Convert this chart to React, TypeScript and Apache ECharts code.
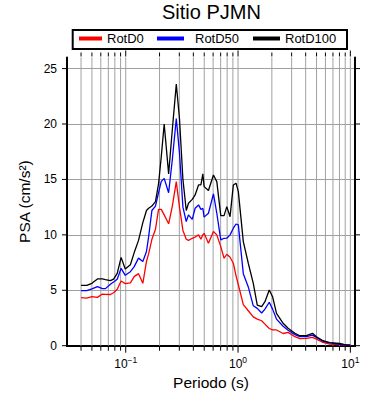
import React, { useEffect, useRef } from "react";
import * as echarts from "echarts";

const FONT = "Liberation Sans, Arial, Helvetica, sans-serif";

const periods = [
  0.04, 0.045, 0.05, 0.056, 0.062, 0.066, 0.073, 0.078, 0.084, 0.091,
  0.099, 0.11, 0.119, 0.13, 0.142, 0.153, 0.16, 0.171, 0.184, 0.196,
  0.207, 0.22, 0.241, 0.26, 0.282, 0.301, 0.323, 0.346, 0.362, 0.391,
  0.415, 0.445, 0.467, 0.486, 0.499, 0.545, 0.604, 0.647, 0.702, 0.751,
  0.794, 0.849, 0.908, 0.96, 1.006, 1.114, 1.234, 1.367, 1.483, 1.623,
  1.736, 1.896, 2.03, 2.2, 2.52, 2.79, 3.21, 3.55, 4.07, 4.6,
  4.99, 5.71, 6.55, 8.04, 9.21, 10.0,
];

const rotD100 = [
  5.45, 5.45, 5.63, 6.02, 6.02, 5.96, 5.87, 6.0, 6.53, 7.97,
  6.92, 7.3, 8.4, 9.5, 11.1, 12.2, 12.4, 12.6, 13.0, 14.6,
  17.0, 20.0, 15.5, 19.5, 23.6, 20.5, 15.0, 12.2, 12.85, 13.2,
  13.6, 14.5, 14.5, 15.5, 14.35, 14.0, 15.4, 14.8, 11.73, 11.73,
  12.55, 11.64, 14.5, 14.66, 13.9, 9.39, 7.44, 5.63, 3.67, 3.52,
  3.97, 5.03, 4.42, 2.92, 2.02, 1.57, 1.12, 0.9, 0.9, 1.12,
  0.81, 0.45, 0.27, 0.2, 0.06, 0.05,
];

const rotD50 = [
  4.96, 4.96, 5.12, 5.33, 5.15, 5.15, 5.54, 5.75, 6.0, 6.98,
  6.35, 6.68, 7.13, 7.9, 7.6, 8.5, 9.84, 12.2, 12.6, 13.8,
  14.8, 15.1, 13.8, 16.8, 20.5, 17.4, 12.5, 11.2, 11.8, 11.4,
  12.4, 12.7, 12.3, 12.4, 11.6, 11.95, 13.7, 11.95, 9.54, 9.69,
  9.7, 10.0, 10.6, 10.98, 10.9, 6.5, 5.3, 3.6, 3.37, 2.95,
  3.3, 3.92, 3.3, 2.4, 1.75, 1.4, 1.0, 0.81, 0.81, 0.95,
  0.75, 0.4, 0.25, 0.13, 0.08, 0.05,
];

const rotD0 = [
  4.33, 4.3, 4.42, 4.36, 4.66, 4.63, 4.62, 4.78, 5.1, 5.84,
  5.6, 5.67, 6.23, 6.5, 5.63, 7.6, 8.3, 9.6, 10.5, 12.3,
  12.3, 11.8, 11.0, 12.6, 14.8, 12.5, 10.4, 9.6, 9.5, 9.69,
  9.8, 10.0, 9.6, 10.0, 10.14, 9.24, 10.3, 10.0, 8.94, 7.89,
  8.25, 7.98, 7.44, 6.3, 5.5, 3.7, 3.15, 2.6, 2.4, 2.25,
  1.95, 1.55, 1.42, 1.42, 1.1, 1.2, 0.81, 0.63, 0.66, 0.75,
  0.6, 0.3, 0.15, 0.08, 0.05, 0.03,
];

const seriesNames = ["RotD0", "RotD50", "RotD100"];
const seriesColors = ["#ff0000", "#0000ff", "#000000"];

const xGridTicks = [
  0.04, 0.05, 0.06, 0.07, 0.08, 0.09,
  0.1, 0.2, 0.3, 0.4, 0.5, 0.6, 0.7, 0.8, 0.9,
  1, 2, 3, 4, 5, 6, 7, 8, 9, 10,
];
const yTicks = [0, 5, 10, 15, 20, 25];

const X_MIN = 0.03;
const X_MAX = 11;
const Y_MIN = 0;
const Y_MAX = 26;

function isPow10(v: number) {
  const l = Math.log10(v);
  return Math.abs(l - Math.round(l)) < 1e-6;
}

export default function App() {
  const ref = useRef<HTMLDivElement>(null);

  useEffect(() => {
    if (!ref.current) return;
    const chart = echarts.init(ref.current, undefined, { renderer: "svg" });

    const lineSeries = [rotD0, rotD50, rotD100].map((vals, i) => ({
      name: seriesNames[i],
      type: "line",
      data: periods.map((p, j) => [p, vals[j]]),
      showSymbol: false,
      symbol: "none",
      lineStyle: { color: seriesColors[i], width: 1.3 },
      itemStyle: { color: seriesColors[i] },
      z: 5 + i,
      animation: false,
    }));

    const option: any = {
      animation: false,
      backgroundColor: "#ffffff",
      textStyle: { fontFamily: FONT },
      title: {
        text: "Sitio PJMN",
        left: 162,
        top: 2,
        padding: 0,
        textStyle: { fontFamily: FONT, fontSize: 20, fontWeight: "normal", color: "#000" },
      },
      graphic: [
        {
          type: "rect",
          shape: { x: 72.7, y: 30, width: 274.3, height: 19 },
          style: { fill: "#fff", stroke: "#000", lineWidth: 2 },
          z: 0,
        },
      ],
      legend: [
        {
          data: [seriesNames[0]], left: 79, top: 32, padding: 0,
          icon: "rect", itemWidth: 23, itemHeight: 4, z: 10,
          textStyle: { fontFamily: FONT, fontSize: 13, color: "#000" },
        },
        {
          data: [seriesNames[1]], left: 157, top: 32, padding: 0,
          icon: "rect", itemWidth: 27, itemHeight: 4, z: 10,
          textStyle: { fontFamily: FONT, fontSize: 13, color: "#000", padding: [0, 0, 0, 6] },
        },
        {
          data: [seriesNames[2]], left: 253, top: 32, padding: 0,
          icon: "rect", itemWidth: 27, itemHeight: 4, z: 10,
          textStyle: { fontFamily: FONT, fontSize: 13, color: "#000" },
        },
      ],
      grid: { left: 67, right: 35, top: 57.5, bottom: 54.3, containLabel: false },
      xAxis: [
        {
          type: "log",
          logBase: 10,
          min: X_MIN,
          max: X_MAX,
          position: "bottom",
          name: "Periodo (s)",
          nameLocation: "middle",
          nameGap: 28,
          nameTextStyle: { fontFamily: FONT, fontSize: 15.5, color: "#000" },
          axisLine: { show: true, lineStyle: { color: "#000", width: 2 } },
          axisTick: { show: false },
          splitLine: { show: false },
          minorTick: { show: false },
          axisLabel: {
            interval: 0,
            margin: 10,
            color: "#000",
            formatter: (v: number) => {
              if (!isPow10(v)) return "";
              const e = Math.round(Math.log10(v));
              const s = e < 0 ? "\u2212" + -e : String(e);
              return `{b|10}{s|${s}}`;
            },
            rich: {
              b: { fontFamily: FONT, fontSize: 12, color: "#000" },
              s: { fontFamily: FONT, fontSize: 8.5, color: "#000", padding: [0, 0, 7, 0] },
            },
          },
        },
        {
          type: "log",
          logBase: 10,
          min: X_MIN,
          max: X_MAX,
          position: "top",
          axisLine: { show: true, lineStyle: { color: "#000", width: 2 } },
          axisTick: { show: false },
          axisLabel: { show: false },
          splitLine: { show: false },
        },
      ],
      yAxis: [
        {
          type: "value",
          min: Y_MIN,
          max: Y_MAX,
          interval: 5,
          position: "left",
          name: "PSA (cm/s²)",
          nameLocation: "middle",
          nameGap: 28,
          nameTextStyle: { fontFamily: FONT, fontSize: 15.5, color: "#000" },
          axisLine: { show: true, lineStyle: { color: "#000", width: 2 } },
          axisTick: { show: false },
          axisLabel: {
            margin: 10,
            color: "#000",
            fontFamily: FONT,
            fontSize: 12,
            formatter: (v: number) => (v % 5 === 0 ? String(v) : ""),
          },
          splitLine: {
            show: true,
            showMinLine: false,
            showMaxLine: false,
            lineStyle: { color: "#a0a0a0", width: 1 },
          },
        },
        {
          type: "value",
          min: Y_MIN,
          max: Y_MAX,
          interval: 5,
          position: "right",
          axisLine: { show: true, lineStyle: { color: "#000", width: 2 } },
          axisTick: { show: false },
          axisLabel: { show: false },
          splitLine: { show: false },
        },
      ],
      series: [
        {
          type: "custom",
          name: "xgrid",
          silent: true,
          clip: false,
          z: 1,
          xAxisIndex: 0,
          yAxisIndex: 0,
          data: xGridTicks.map((v) => [v, 0]),
          renderItem: (params: any, api: any) => {
            const v = api.value(0);
            const pb = api.coord([v, Y_MIN]);
            const pt = api.coord([v, Y_MAX]);
            const len = isPow10(v) ? 6 : 4;
            return {
              type: "group",
              children: [
                {
                  type: "line",
                  shape: { x1: pb[0], y1: pb[1], x2: pt[0], y2: pt[1] },
                  style: { stroke: "#a0a0a0", lineWidth: 1 },
                },
                {
                  type: "line",
                  shape: { x1: pb[0], y1: pb[1] + 1, x2: pb[0], y2: pb[1] + 1 + len },
                  style: { stroke: "#000", lineWidth: 1 },
                },
                {
                  type: "line",
                  shape: { x1: pt[0], y1: pt[1] - 1, x2: pt[0], y2: pt[1] - 1 - len },
                  style: { stroke: "#000", lineWidth: 1 },
                },
              ],
            };
          },
        },
        {
          type: "custom",
          name: "yticks",
          silent: true,
          clip: false,
          z: 1,
          xAxisIndex: 0,
          yAxisIndex: 0,
          data: yTicks.map((v) => [X_MIN, v]),
          renderItem: (params: any, api: any) => {
            const v = api.value(1);
            const pl = api.coord([X_MIN, v]);
            const pr = api.coord([X_MAX, v]);
            return {
              type: "group",
              children: [
                {
                  type: "line",
                  shape: { x1: pl[0] - 1, y1: pl[1], x2: pl[0] - 5, y2: pl[1] },
                  style: { stroke: "#000", lineWidth: 1 },
                },
                {
                  type: "line",
                  shape: { x1: pr[0] + 1, y1: pr[1], x2: pr[0] + 5, y2: pr[1] },
                  style: { stroke: "#000", lineWidth: 1 },
                },
              ],
            };
          },
        },
        ...lineSeries,
      ],
    };

    chart.setOption(option);
    return () => chart.dispose();
  }, []);

  return (
    <div
      ref={ref}
      style={{ position: "absolute", left: 0, top: 0, width: 390, height: 400 }}
    />
  );
}
